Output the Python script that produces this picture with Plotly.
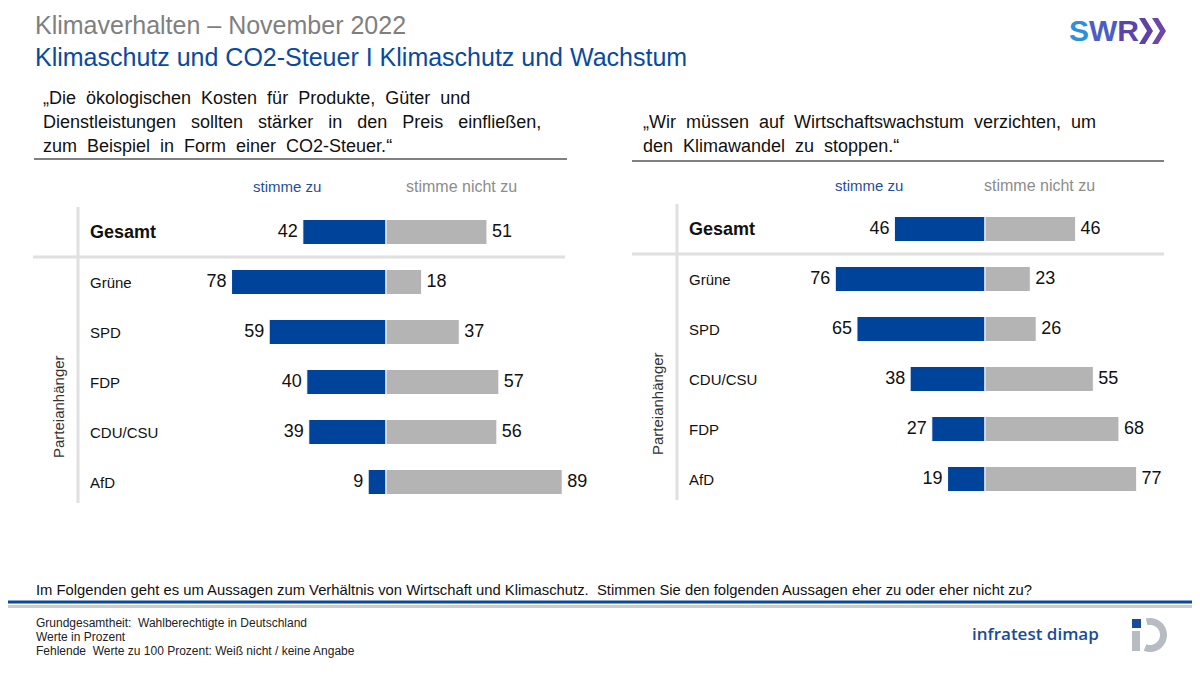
import numpy as np
import plotly.graph_objects as go

# data
rows_left = ["Gesamt", "Grüne", "SPD", "FDP", "CDU/CSU", "AfD"]
zu_left = [42, 78, 59, 40, 39, 9]
nicht_left = [51, 18, 37, 57, 56, 89]

rows_right = ["Gesamt", "Grüne", "SPD", "CDU/CSU", "FDP", "AfD"]
zu_right = [46, 76, 65, 38, 27, 19]
nicht_right = [46, 23, 26, 55, 68, 77]

quote_left = ["„Die  ökologischen  Kosten  für  Produkte,  Güter  und",
              "Dienstleistungen   sollten   stärker   in   den   Preis   einfließen,",
              "zum  Beispiel  in  Form  einer  CO2-Steuer.“"]
quote_right = ["„Wir  müssen  auf  Wirtschaftswachstum  verzichten,  um",
               "den  Klimawandel  zu  stoppen.“"]

W, H = 1200, 675
OFF = 8  # page body margin of the html page
BLUE = "#00439a"
GREY = "#b4b4b4"
FONT = "Liberation Sans, Arial, sans-serif"


def px(x):
    return (x - OFF) / W


def py(y):
    return 1 - (y - OFF) / H


fig = go.Figure()
shapes = []
ann = []


def text(x, y, t, size, color="#111", xanchor="left", family=FONT, **kw):
    ann.append(dict(x=px(x), y=py(y), xref="paper", yref="paper", xanchor=xanchor, yanchor="middle",
                    text=t, showarrow=False, font=dict(size=size, color=color, family=family), **kw))


def panel(n, rows, zu, nicht, center, scale, left, top):
    xa = "x" if n == 1 else "x2"
    ya = "y" if n == 1 else "y2"
    fig.add_trace(go.Bar(y=rows, x=[-v for v in zu], orientation="h", marker_color=BLUE,
                         marker_line=dict(color="white", width=1), width=0.5,
                         xaxis=xa, yaxis=ya, hoverinfo="skip"))
    fig.add_trace(go.Bar(y=rows, x=nicht, orientation="h", marker_color=GREY,
                         marker_line=dict(color="white", width=1), width=0.5,
                         xaxis=xa, yaxis=ya, hoverinfo="skip"))
    fig.add_trace(go.Scatter(y=rows, x=[-v - 2.5 for v in zu], mode="text",
                             text=[str(v) for v in zu], textposition="middle left",
                             textfont=dict(size=18, color="#111", family=FONT),
                             xaxis=xa, yaxis=ya, hoverinfo="skip"))
    fig.add_trace(go.Scatter(y=rows, x=[v + 2.5 for v in nicht], mode="text",
                             text=[str(v) for v in nicht], textposition="middle right",
                             textfont=dict(size=18, color="#111", family=FONT),
                             xaxis=xa, yaxis=ya, hoverinfo="skip"))
    x0, x1 = left, left + 560
    fig.update_layout({
        ("xaxis" if n == 1 else "xaxis2"): dict(domain=[px(x0), px(x1)],
                                                range=[(x0 - center) / scale, (x1 - center) / scale],
                                                visible=False, fixedrange=True),
        ("yaxis" if n == 1 else "yaxis2"): dict(domain=[py(top + 300), py(top)],
                                                type="category", categoryarray=rows,
                                                range=[5.5, -0.5], visible=False),
    })
    lab_x = center - 298
    for i, r in enumerate(rows):
        ann.append(dict(x=px(lab_x), xref="paper", y=r, yref=ya, xanchor="left", yanchor="middle",
                        text=f"<b>{r}</b>" if i == 0 else r, showarrow=False,
                        font=dict(size=18 if i == 0 else 15, color="#111", family=FONT)))
    # grid lines
    shapes.append(dict(type="line", xref="paper", yref=ya, x0=px(center - 353), x1=px(center + 179),
                       y0=0.5, y1=0.5, line=dict(color="#e0e0e0", width=3)))
    shapes.append(dict(type="line", xref="paper", yref="paper", x0=px(center - 308), x1=px(center - 308),
                       y0=py(top), y1=py(top + 296), line=dict(color="#e0e0e0", width=3)))
    text(center - 328, top + 200, "Parteianhänger", 15, "#333", xanchor="center", textangle=-90)


panel(1, rows_left, zu_left, nicht_left, 386, 1.98, 35, 207)
panel(2, rows_right, zu_right, nicht_right, 985, 1.97, 635, 204)

# column headers
for x, y, t, c, s in [(287, 186, "stimme zu", "#1f4e9c", 15), (461, 186, "stimme nicht zu", "#8c8c8c", 16),
                      (869, 185, "stimme zu", "#1f4e9c", 15), (1039, 185, "stimme nicht zu", "#8c8c8c", 16)]:
    text(x, y, t, s, c, xanchor="center")

# quotes with underline
for i, line in enumerate(quote_left):
    text(41, 98 + 24 * i, line, 18)
for i, line in enumerate(quote_right):
    text(641, 122 + 24 * i, line, 18)
shapes.append(dict(type="line", xref="paper", yref="paper", x0=px(34), x1=px(567), y0=py(159), y1=py(159),
                   line=dict(color="#808080", width=2)))
shapes.append(dict(type="line", xref="paper", yref="paper", x0=px(632), x1=px(1164), y0=py(161), y1=py(161),
                   line=dict(color="#808080", width=2)))

# titles
text(33, 25, "Klimaverhalten – November 2022", 25, "#7f7f7f")
text(33, 57, "Klimaschutz und CO2-Steuer I Klimaschutz und Wachstum", 25, "#0a4a9e")

# SWR logo
text(1067, 31, "<b><span style='color:#2f8fd8'>S</span><span style='color:#4a5ec4'>W</span>"
               "<span style='color:#5c44aa'>R</span></b>", 30, family="Liberation Sans, sans-serif")
for x0, col in ((1139, "#5f42a6"), (1152, "#6c46aa")):
    shapes.append(dict(type="path", xref="paper", yref="paper", fillcolor=col, line_width=0,
                       path=f"M {px(x0)},{py(18)} L {px(x0 + 6)},{py(18)} L {px(x0 + 14)},{py(31)} "
                            f"L {px(x0 + 6)},{py(44)} L {px(x0)},{py(44)} L {px(x0 + 8)},{py(31)} Z"))

# bottom question and rules
text(34, 590, "Im Folgenden geht es um Aussagen zum Verhältnis von Wirtschaft und Klimaschutz.  "
              "Stimmen Sie den folgenden Aussagen eher zu oder eher nicht zu?", 14.8)
shapes.append(dict(type="line", xref="paper", yref="paper", x0=-0.02, x1=1.02, y0=py(602), y1=py(602),
                   line=dict(color="#0a4a9e", width=3)))
shapes.append(dict(type="line", xref="paper", yref="paper", x0=-0.02, x1=1.02, y0=py(606.5), y1=py(606.5),
                   line=dict(color="#c9cdd2", width=3)))

footer = ["Grundgesamtheit:  Wahlberechtigte in Deutschland", "Werte in Prozent",
          "Fehlende  Werte zu 100 Prozent: Weiß nicht / keine Angabe"]
for i, line in enumerate(footer):
    text(34, 623 + 14 * i, line, 12, "#222")

# infratest dimap logo
ann.append(dict(x=px(1101), y=py(633), xref="paper", yref="paper", xanchor="right", yanchor="middle",
                text="infratest dimap", showarrow=False,
                font=dict(size=17, color="#1a4a9a", family="Open Sans, sans-serif", weight=600)))
shapes.append(dict(type="rect", xref="paper", yref="paper", x0=px(1132), x1=px(1141), y0=py(628), y1=py(619),
                   fillcolor="#1a4a9a", line_width=0))
shapes.append(dict(type="rect", xref="paper", yref="paper", x0=px(1132), x1=px(1140), y0=py(651), y1=py(631),
                   fillcolor="#b7bcc2", line_width=0))
ang = np.linspace(np.pi * 0.58, -np.pi * 0.62, 40)
cx, cy, ro, ri = 1150, 635, 17, 10
outer = [(cx + ro * np.cos(a), cy - ro * np.sin(a)) for a in ang]
inner = [(cx + ri * np.cos(a), cy - ri * np.sin(a)) for a in ang[::-1]]
path = "M " + " L ".join(f"{px(x)},{py(y)}" for x, y in outer + inner) + " Z"
shapes.append(dict(type="path", xref="paper", yref="paper", path=path, fillcolor="#b7bcc2", line_width=0))

fig.update_layout(width=W, height=H, margin=dict(l=0, r=0, t=0, b=0),
                  paper_bgcolor="white", plot_bgcolor="white", showlegend=False,
                  barmode="relative", shapes=shapes, annotations=ann,
                  font=dict(family=FONT))
fig.write_html("out.html", config={"displayModeBar": False})
